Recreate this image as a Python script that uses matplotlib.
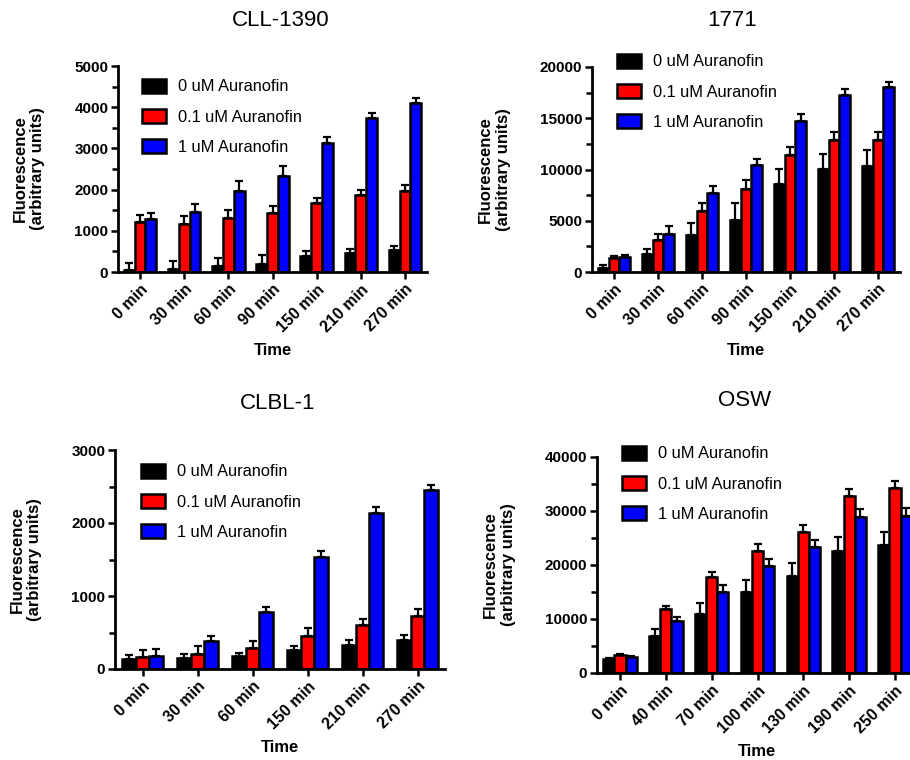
import matplotlib
matplotlib.use("Agg")
import matplotlib.pyplot as plt
from matplotlib.ticker import MultipleLocator
import numpy as np

plt.rcParams['font.family'] = ['Liberation Sans', 'DejaVu Sans']

series_names = ["0 uM Auranofin", "0.1 uM Auranofin", "1 uM Auranofin"]
colors = ["#000000", "#ff0000", "#0000ff"]

# CLL-1390
t1 = ["0 min", "30 min", "60 min", "90 min", "150 min", "210 min", "270 min"]
cll_0 = [40, 80, 140, 200, 380, 470, 530]
cll_01 = [1215, 1175, 1300, 1420, 1680, 1865, 1970]
cll_1 = [1297, 1460, 1970, 2325, 3120, 3745, 4110]
cll_0_err = [180, 190, 210, 205, 120, 100, 95]
cll_01_err = [165, 175, 215, 185, 120, 120, 135]
cll_1_err = [138, 200, 240, 245, 145, 105, 105]

# 1771
t2 = ["0 min", "30 min", "60 min", "90 min", "150 min", "210 min", "270 min"]
s1771_0 = [390, 1720, 3580, 5100, 8620, 10020, 10340]
s1771_01 = [1400, 3090, 5950, 8130, 11380, 12850, 12910]
s1771_1 = [1460, 3740, 7710, 10400, 14730, 17300, 18050]
s1771_0_err = [260, 560, 1200, 1630, 1400, 1520, 1590]
s1771_01_err = [130, 650, 780, 810, 820, 810, 750]
s1771_1_err = [170, 715, 650, 660, 650, 590, 490]

# CLBL-1
t3 = ["0 min", "30 min", "60 min", "150 min", "210 min", "270 min"]
clbl_0 = [137, 150, 173, 255, 333, 401]
clbl_01 = [164, 205, 287, 456, 606, 720]
clbl_1 = [182, 378, 775, 1541, 2134, 2453]
clbl_0_err = [59, 60, 46, 64, 68, 69]
clbl_01_err = [100, 105, 91, 105, 83, 101]
clbl_1_err = [92, 78, 73, 69, 82, 69]

# OSW
t4 = ["0 min", "40 min", "70 min", "100 min", "130 min", "190 min", "250 min"]
osw_0 = [2600, 6810, 10900, 14920, 17960, 22660, 23710]
osw_01 = [3280, 11765, 17710, 22600, 26070, 32690, 34240]
osw_1 = [2970, 9660, 15050, 19810, 23280, 28850, 29160]
osw_0_err = [250, 1425, 2100, 2290, 2350, 2600, 2360]
osw_01_err = [190, 615, 1050, 1300, 1360, 1430, 1240]
osw_1_err = [190, 740, 1230, 1240, 1360, 1490, 1370]

W, H = 910, 760
fig = plt.figure(figsize=(W / 100, H / 100), dpi=100)


def make_panel(box, title, title_xy, labels, vals, errs, ymax, major, leg_xy):
    left, right, bottom, top = box
    ax = fig.add_axes([left / W, 1 - bottom / H, (right - left) / W, (bottom - top) / H])
    x = np.arange(len(labels))
    w = 0.245
    for i in range(3):
        v = np.array(vals[i])
        e = np.array(errs[i])
        ax.bar(x + (i - 1) * w, v, w, color=colors[i], edgecolor="black", linewidth=1.8,
               label=series_names[i], zorder=2)
        ax.errorbar(x + (i - 1) * w, v, yerr=[np.zeros_like(e), e], fmt="none",
                    ecolor="black", elinewidth=1.6, capsize=3, capthick=1.6, zorder=1)
    ax.set_xlim(-0.5, len(labels) - 0.5)
    ax.set_ylim(0, ymax)
    ax.yaxis.set_major_locator(MultipleLocator(major))
    ax.yaxis.set_minor_locator(MultipleLocator(major / 2))
    ax.set_xticks(x)
    ax.set_xticklabels(labels, rotation=45, ha="right", rotation_mode="anchor",
                       fontsize=11.5, fontweight="bold")
    for lab in ax.get_yticklabels():
        lab.set_fontweight("bold")
        lab.set_fontsize(11)
    ax.spines["top"].set_visible(False)
    ax.spines["right"].set_visible(False)
    ax.spines["left"].set_linewidth(2)
    ax.spines["bottom"].set_linewidth(2)
    ax.tick_params(axis="both", which="major", width=1.8, length=5, pad=2)
    ax.tick_params(axis="y", which="minor", width=1.8, length=4)
    ax.set_xlabel("Time", fontsize=12, fontweight="bold", labelpad=6)
    ax.set_ylabel("Fluorescence\n(arbitrary units)", fontsize=12, fontweight="bold", labelpad=21)
    fig.text(title_xy[0] / W, 1 - title_xy[1] / H, title, fontsize=16, ha="center", va="center")
    ax.legend(loc="upper left", bbox_to_anchor=(leg_xy[0] / W, 1 - leg_xy[1] / H),
              bbox_transform=fig.transFigure, frameon=False, fontsize=11.8,
              borderpad=0, borderaxespad=0,
              handlelength=1.45, handleheight=0.9, labelspacing=0.9, handletextpad=0.75)
    return ax


make_panel((118, 427, 272, 66), "CLL-1390", (281, 21), t1,
           [cll_0, cll_01, cll_1], [cll_0_err, cll_01_err, cll_1_err], 5000, 1000, (142, 79))
make_panel((592, 900, 272, 67), "1771", (732, 20), t2,
           [s1771_0, s1771_01, s1771_1], [s1771_0_err, s1771_01_err, s1771_1_err], 20000, 5000, (617, 54))
make_panel((115, 445, 669, 450), "CLBL-1", (278, 403), t3,
           [clbl_0, clbl_01, clbl_1], [clbl_0_err, clbl_01_err, clbl_1_err], 3000, 1000, (141, 464))
make_panel((597, 918, 673, 457), "OSW", (745, 400), t4,
           [osw_0, osw_01, osw_1], [osw_0_err, osw_01_err, osw_1_err], 40000, 10000, (622, 446))

fig.savefig("out.png", dpi=100)
